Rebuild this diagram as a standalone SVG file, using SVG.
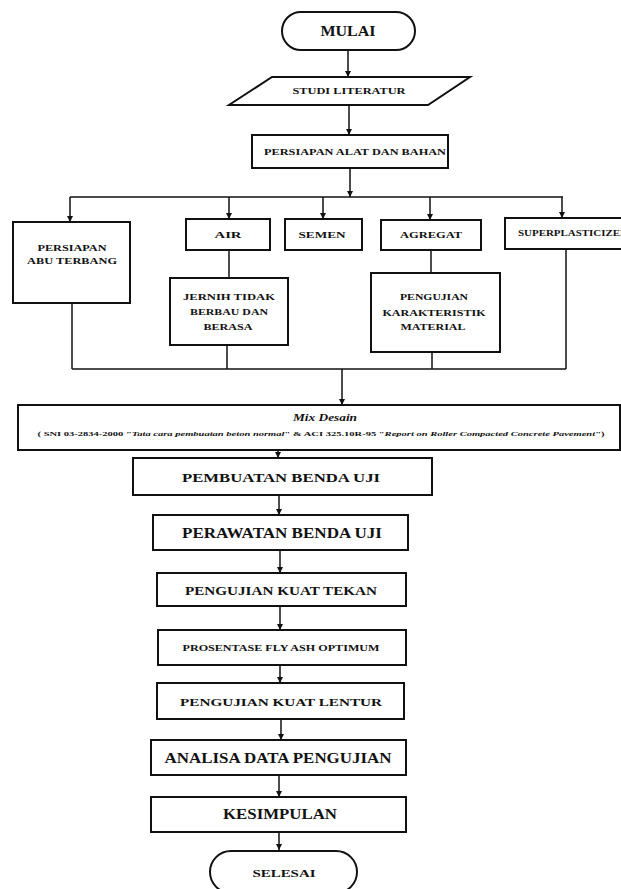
<svg xmlns="http://www.w3.org/2000/svg" width="621" height="889" viewBox="0 0 621 889">
<style>
.b{fill:#fff;stroke:#111;stroke-width:2}
.t{font-family:"Liberation Serif","Times New Roman",serif;font-weight:bold;fill:#111;text-anchor:middle}
.c{fill:none;stroke:#111;stroke-width:1.5}
</style>
<defs>
<marker id="ah" viewBox="0 0 10 10" refX="10" refY="5" markerWidth="6" markerHeight="6" orient="auto" markerUnits="userSpaceOnUse">
<path d="M0,0 L10,5 L0,10 z" fill="#111"/>
</marker>
</defs>
<rect width="621" height="889" fill="#fff"/>
<g id="connectors">
<path class="c" d="M348,50 V77" marker-end="url(#ah)"/>
<path class="c" d="M349,105 V135" marker-end="url(#ah)"/>
<path class="c" d="M350,168 V197" marker-end="url(#ah)"/>
<path class="c" d="M70,197 H563"/>
<path class="c" d="M70,197 V222" marker-end="url(#ah)"/>
<path class="c" d="M229,197 V219" marker-end="url(#ah)"/>
<path class="c" d="M323,197 V219" marker-end="url(#ah)"/>
<path class="c" d="M430,197 V220" marker-end="url(#ah)"/>
<path class="c" d="M562,197 V218" marker-end="url(#ah)"/>
<path class="c" d="M229,250 V278"/>
<path class="c" d="M431,250 V273"/>
<path class="c" d="M72,303 V369"/>
<path class="c" d="M227,345 V369"/>
<path class="c" d="M432,352 V369"/>
<path class="c" d="M566,249 V369"/>
<path class="c" d="M72,369 H566"/>
<path class="c" d="M342,369 V405" marker-end="url(#ah)"/>
<path class="c" d="M278,450 V458" marker-end="url(#ah)"/>
<path class="c" d="M279,495 V515" marker-end="url(#ah)"/>
<path class="c" d="M280,550 V573" marker-end="url(#ah)"/>
<path class="c" d="M280,606 V630" marker-end="url(#ah)"/>
<path class="c" d="M280,665 V683" marker-end="url(#ah)"/>
<path class="c" d="M281,719 V740" marker-end="url(#ah)"/>
<path class="c" d="M279,775 V797" marker-end="url(#ah)"/>
<path class="c" d="M279,832 V850" marker-end="url(#ah)"/>
</g>
<g id="mulai">
<rect class="b" x="282" y="12" width="133" height="38" rx="19"/>
<text class="t" x="348" y="36" font-size="15" textLength="55" lengthAdjust="spacingAndGlyphs">MULAI</text>
</g>
<g id="studi">
<polygon class="b" points="272,77 470,77 428,105 229,105"/>
<text class="t" x="349" y="94" font-size="9" textLength="113" lengthAdjust="spacingAndGlyphs">STUDI LITERATUR</text>
</g>
<g id="persiapan">
<rect class="b" x="252" y="135" width="196" height="33"/>
<text class="t" x="355" y="155" font-size="9" textLength="182" lengthAdjust="spacingAndGlyphs">PERSIAPAN ALAT DAN BAHAN</text>
</g>
<g id="abu">
<rect class="b" x="13" y="222" width="117" height="81"/>
<text class="t" x="72" y="251" font-size="8" textLength="69" lengthAdjust="spacingAndGlyphs">PERSIAPAN</text>
<text class="t" x="72" y="264" font-size="8" textLength="90" lengthAdjust="spacingAndGlyphs">ABU TERBANG</text>
</g>
<g id="air">
<rect class="b" x="186" y="219" width="84" height="31"/>
<text class="t" x="228" y="238" font-size="8" textLength="27" lengthAdjust="spacingAndGlyphs">AIR</text>
</g>
<g id="semen">
<rect class="b" x="285" y="219" width="77" height="31"/>
<text class="t" x="322" y="238" font-size="8" textLength="47" lengthAdjust="spacingAndGlyphs">SEMEN</text>
</g>
<g id="agregat">
<rect class="b" x="381" y="220" width="100" height="30"/>
<text class="t" x="431" y="238" font-size="8" textLength="62" lengthAdjust="spacingAndGlyphs">AGREGAT</text>
</g>
<g id="superplasticizer">
<rect class="b" x="505" y="218" width="120" height="31"/>
<text x="518" y="236" font-family="Liberation Serif, serif" font-weight="bold" font-size="7.5" fill="#111" textLength="110" lengthAdjust="spacingAndGlyphs">SUPERPLASTICIZER</text>
</g>
<g id="jernih">
<rect class="b" x="170" y="278" width="118" height="67"/>
<text class="t" x="229" y="300" font-size="8" textLength="92" lengthAdjust="spacingAndGlyphs">JERNIH TIDAK</text>
<text class="t" x="229" y="315" font-size="8" textLength="78" lengthAdjust="spacingAndGlyphs">BERBAU DAN</text>
<text class="t" x="228" y="330" font-size="8" textLength="49" lengthAdjust="spacingAndGlyphs">BERASA</text>
</g>
<g id="karakteristik">
<rect class="b" x="371" y="273" width="129" height="79"/>
<text class="t" x="434" y="300" font-size="8" textLength="68" lengthAdjust="spacingAndGlyphs">PENGUJIAN</text>
<text class="t" x="434" y="316" font-size="8" textLength="103" lengthAdjust="spacingAndGlyphs">KARAKTERISTIK</text>
<text class="t" x="433" y="330" font-size="8" textLength="65" lengthAdjust="spacingAndGlyphs">MATERIAL</text>
</g>
<g id="mixdesain">
<rect class="b" x="18" y="405" width="602" height="45"/>
<text class="t" x="325" y="421" font-size="10" font-style="italic" textLength="64" lengthAdjust="spacingAndGlyphs">Mix Desain</text>
<text class="t" x="321" y="436" font-size="6.5" textLength="567" lengthAdjust="spacingAndGlyphs">( SNI 03-2834-2000 "<tspan font-style="italic">Tata cara pembuatan beton normal</tspan>" &amp; ACI 325.10R-95 "<tspan font-style="italic">Report on Roller Compacted Concrete Pavement</tspan>")</text>
</g>
<g id="pembuatan">
<rect class="b" x="133" y="458" width="299" height="37"/>
<text class="t" x="281" y="482" font-size="13" textLength="198" lengthAdjust="spacingAndGlyphs">PEMBUATAN BENDA UJI</text>
</g>
<g id="perawatan">
<rect class="b" x="153" y="515" width="255" height="35"/>
<text class="t" x="282" y="538" font-size="14" textLength="200" lengthAdjust="spacingAndGlyphs">PERAWATAN BENDA UJI</text>
</g>
<g id="tekan">
<rect class="b" x="157" y="573" width="249" height="33"/>
<text class="t" x="281" y="595" font-size="12" textLength="192" lengthAdjust="spacingAndGlyphs">PENGUJIAN KUAT TEKAN</text>
</g>
<g id="prosentase">
<rect class="b" x="158" y="630" width="248" height="35"/>
<text class="t" x="281" y="651" font-size="9" textLength="197" lengthAdjust="spacingAndGlyphs">PROSENTASE FLY ASH OPTIMUM</text>
</g>
<g id="lentur">
<rect class="b" x="157" y="683" width="247" height="36"/>
<text class="t" x="281" y="706" font-size="11" textLength="202" lengthAdjust="spacingAndGlyphs">PENGUJIAN KUAT LENTUR</text>
</g>
<g id="analisa">
<rect class="b" x="151" y="740" width="255" height="35"/>
<text class="t" x="278" y="763" font-size="15" textLength="227" lengthAdjust="spacingAndGlyphs">ANALISA DATA PENGUJIAN</text>
</g>
<g id="kesimpulan">
<rect class="b" x="151" y="797" width="255" height="35"/>
<text class="t" x="280" y="819" font-size="15" textLength="114" lengthAdjust="spacingAndGlyphs">KESIMPULAN</text>
</g>
<g id="selesai">
<rect class="b" x="210" y="851" width="147" height="42" rx="21"/>
<text class="t" x="284" y="877" font-size="11" textLength="63" lengthAdjust="spacingAndGlyphs">SELESAI</text>
</g>
</svg>
